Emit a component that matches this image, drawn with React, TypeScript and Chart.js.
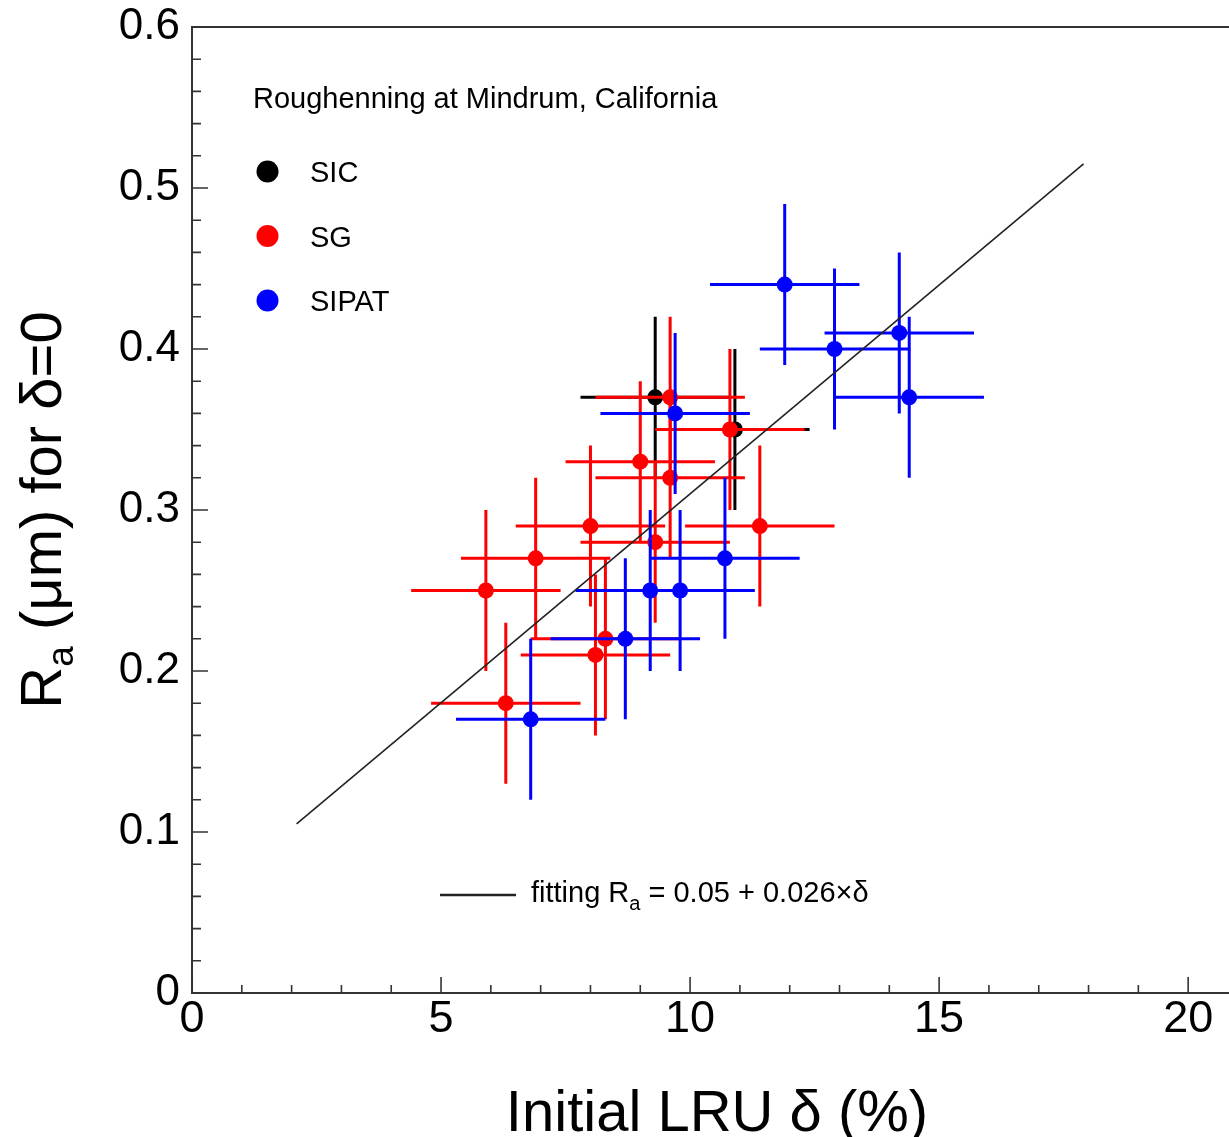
import { useEffect, useRef } from "react";
import { Chart, registerables } from "chart.js";

Chart.register(...registerables);

// ---- data ----
const sicX = [9.3, 10.9];
const sicY = [0.37, 0.35];
const sicXErr = [1.5, 1.5];
const sicYErr = [0.05, 0.05];

const sgX = [9.6, 10.8, 9.0, 9.6, 8.0, 9.3, 11.4, 6.9, 5.9, 8.3, 8.1, 6.3];
const sgY = [0.37, 0.35, 0.33, 0.32, 0.29, 0.28, 0.29, 0.27, 0.25, 0.22, 0.21, 0.18];
const sgXErr = [1.5, 1.5, 1.5, 1.5, 1.5, 1.5, 1.5, 1.5, 1.5, 1.5, 1.5, 1.5];
const sgYErr = [0.05, 0.05, 0.05, 0.05, 0.05, 0.05, 0.05, 0.05, 0.05, 0.05, 0.05, 0.05];

const sipatX = [9.7, 10.7, 9.2, 9.8, 8.7, 6.8, 11.9, 12.9, 14.2, 14.4];
const sipatY = [0.36, 0.27, 0.25, 0.25, 0.22, 0.17, 0.44, 0.40, 0.41, 0.37];
const sipatXErr = [1.5, 1.5, 1.5, 1.5, 1.5, 1.5, 1.5, 1.5, 1.5, 1.5];
const sipatYErr = [0.05, 0.05, 0.05, 0.05, 0.05, 0.05, 0.05, 0.05, 0.05, 0.05];

const fitX = [2.1, 17.9];
const fitY = [0.105, 0.515];

const xTickValues = [0, 5, 10, 15, 20];
const xTickLabels = ["0", "5", "10", "15", "20"];
const xMinorTicks = [1, 2, 3, 4, 6, 7, 8, 9, 11, 12, 13, 14, 16, 17, 18, 19];
const yTickValues = [0, 0.1, 0.2, 0.3, 0.4, 0.5, 0.6];
const yTickLabels = ["0", "0.1", "0.2", "0.3", "0.4", "0.5", "0.6"];
const yMinorTicks = [
  0.02, 0.04, 0.06, 0.08, 0.12, 0.14, 0.16, 0.18, 0.22, 0.24, 0.26, 0.28,
  0.32, 0.34, 0.36, 0.38, 0.42, 0.44, 0.46, 0.48, 0.52, 0.54, 0.56, 0.58,
];

const seriesNames = ["SIC", "SG", "SIPAT"];
const seriesColors = ["#000000", "#ff0000", "#0000ff"];
const legendTitle = "Roughenning at Mindrum, California";
const xTitle = "Initial LRU \u03b4 (%)";

const FONT = "'Liberation Sans', Arial, sans-serif";

const toPts = (xs: number[], ys: number[]) => xs.map((x, i) => ({ x, y: ys[i] }));

const errorBarPlugin = {
  id: "errorBars",
  beforeDatasetDraw(chart: any, args: any) {
    const ds = chart.data.datasets[args.index];
    if (!ds.xErr) return;
    const { ctx, scales } = chart;
    const xs = scales.x;
    const ys = scales.y;
    ctx.save();
    ctx.strokeStyle = ds.errColor;
    ctx.lineWidth = 3;
    ctx.lineCap = "butt";
    ds.data.forEach((p: any, i: number) => {
      const px = xs.getPixelForValue(p.x);
      const py = ys.getPixelForValue(p.y);
      const xl = xs.getPixelForValue(p.x - ds.xErr[i]);
      const xr = xs.getPixelForValue(p.x + ds.xErr[i]);
      const yt = ys.getPixelForValue(p.y + ds.yErr[i]);
      const yb = ys.getPixelForValue(p.y - ds.yErr[i]);
      ctx.beginPath();
      ctx.moveTo(xl, py);
      ctx.lineTo(xr, py);
      ctx.moveTo(px, yt);
      ctx.lineTo(px, yb);
      ctx.stroke();
    });
    ctx.restore();
  },
};

const framePlugin = {
  id: "frame",
  beforeDatasetsDraw(chart: any) {
    const { ctx, chartArea: a, scales } = chart;
    ctx.save();
    ctx.strokeStyle = "#333333";
    ctx.lineWidth = 2;
    ctx.beginPath();
    ctx.moveTo(a.right + 2, a.top);
    ctx.lineTo(a.left, a.top);
    ctx.lineTo(a.left, a.bottom);
    ctx.lineTo(a.right + 2, a.bottom);
    ctx.stroke();
    ctx.lineWidth = 1.6;
    ctx.beginPath();
    xTickValues.forEach((v) => {
      const x = scales.x.getPixelForValue(v);
      ctx.moveTo(x, a.bottom);
      ctx.lineTo(x, a.bottom - 16);
    });
    xMinorTicks.forEach((v) => {
      const x = scales.x.getPixelForValue(v);
      ctx.moveTo(x, a.bottom);
      ctx.lineTo(x, a.bottom - 8);
    });
    yTickValues.forEach((v) => {
      const y = scales.y.getPixelForValue(v);
      ctx.moveTo(a.left, y);
      ctx.lineTo(a.left + 16, y);
    });
    yMinorTicks.forEach((v) => {
      const y = scales.y.getPixelForValue(v);
      ctx.moveTo(a.left, y);
      ctx.lineTo(a.left + 9, y);
    });
    ctx.stroke();
    ctx.restore();
  },
  afterDraw(chart: any) {
    const { ctx, chartArea: a } = chart;
    ctx.save();
    ctx.fillStyle = "#000";
    ctx.textBaseline = "alphabetic";

    // x title
    ctx.font = `58px ${FONT}`;
    ctx.textAlign = "center";
    ctx.fillText(xTitle, 717, 1131);

    // y title (rotated) with subscript
    ctx.save();
    ctx.translate(0, (a.top + a.bottom) / 2);
    ctx.rotate(-Math.PI / 2);
    ctx.textAlign = "left";
    const big = `58px ${FONT}`;
    const small = `37px ${FONT}`;
    ctx.font = big;
    const wR = ctx.measureText("R").width;
    const rest = " (\u03bcm) for \u03b4=0";
    const wRest = ctx.measureText(rest).width;
    ctx.font = small;
    const wa = ctx.measureText("a").width;
    const total = wR + wa + wRest;
    let u = -total / 2;
    const base = 61;
    ctx.font = big;
    ctx.fillText("R", u, base);
    u += wR;
    ctx.font = small;
    ctx.fillText("a", u, base + 12);
    u += wa;
    ctx.font = big;
    ctx.fillText(rest, u, base);
    ctx.restore();

    // legend
    ctx.textAlign = "left";
    ctx.font = `29px ${FONT}`;
    ctx.fillText(legendTitle, 253, 108);
    const rowY = [171.5, 236, 300.5];
    seriesNames.forEach((name, i) => {
      ctx.fillStyle = seriesColors[i];
      ctx.beginPath();
      ctx.arc(267.5, rowY[i], 11, 0, Math.PI * 2);
      ctx.fill();
      ctx.fillStyle = "#000";
      ctx.fillText(name, 310, rowY[i] + 10.5);
    });

    // fit legend
    ctx.strokeStyle = "#222";
    ctx.lineWidth = 2.5;
    ctx.beginPath();
    ctx.moveTo(440, 895);
    ctx.lineTo(516, 895);
    ctx.stroke();
    let fx = 531;
    const fb = 902;
    ctx.font = `29px ${FONT}`;
    ctx.fillText("fitting R", fx, fb);
    fx += ctx.measureText("fitting R").width;
    ctx.font = `20px ${FONT}`;
    ctx.fillText("a", fx, fb + 8);
    fx += ctx.measureText("a").width;
    ctx.font = `29px ${FONT}`;
    ctx.fillText(" = 0.05 + 0.026\u00d7\u03b4", fx, fb);
    ctx.restore();
  },
};

const zeroPad = (s: any) => {
  s.paddingTop = 0;
  s.paddingBottom = 0;
  s.paddingLeft = 0;
  s.paddingRight = 0;
};

export default function App() {
  const ref = useRef<HTMLCanvasElement>(null);
  useEffect(() => {
    document.body.style.margin = "0";
    document.body.style.overflow = "hidden";
    const canvas = ref.current!;
    const chart = new Chart(canvas, {
      type: "scatter",
      data: {
        datasets: [
          {
            label: "fit",
            data: toPts(fitX, fitY),
            showLine: true,
            borderColor: "#222222",
            borderWidth: 1.6,
            pointRadius: 0,
            order: 0,
          } as any,
          {
            label: seriesNames[2],
            data: toPts(sipatX, sipatY),
            pointRadius: 8,
            pointBackgroundColor: seriesColors[2],
            pointBorderWidth: 0,
            xErr: sipatXErr,
            yErr: sipatYErr,
            errColor: seriesColors[2],
            order: 1,
          } as any,
          {
            label: seriesNames[1],
            data: toPts(sgX, sgY),
            pointRadius: 8,
            pointBackgroundColor: seriesColors[1],
            pointBorderWidth: 0,
            xErr: sgXErr,
            yErr: sgYErr,
            errColor: seriesColors[1],
            order: 2,
          } as any,
          {
            label: seriesNames[0],
            data: toPts(sicX, sicY),
            pointRadius: 8,
            pointBackgroundColor: seriesColors[0],
            pointBorderWidth: 0,
            xErr: sicXErr,
            yErr: sicYErr,
            errColor: seriesColors[0],
            order: 3,
          } as any,
        ],
      },
      options: {
        animation: false,
        responsive: false,
        devicePixelRatio: 1,
        events: [],
        layout: { autoPadding: false, padding: { top: 27, right: 0, left: 0, bottom: 0 } },
        plugins: { legend: { display: false }, tooltip: { enabled: false } },
        scales: {
          x: {
            type: "linear",
            position: "bottom",
            min: 0,
            max: 20.82,
            grid: { display: false, drawTicks: false },
            border: { display: false },
            afterBuildTicks: (s: any) => {
              s.ticks = xTickValues.map((v) => ({ value: v }));
            },
            afterFit: (s: any) => {
              s.height = 144;
              zeroPad(s);
            },
            ticks: {
              autoSkip: false,
              maxRotation: 0,
              includeBounds: false,
              padding: 0,
              color: "#000",
              font: { family: FONT, size: 45 },
              callback: (v: any) => xTickLabels[xTickValues.indexOf(v)] ?? "",
            },
          },
          y: {
            type: "linear",
            position: "left",
            min: 0,
            max: 0.6,
            grid: { display: false, drawTicks: false },
            border: { display: false },
            afterBuildTicks: (s: any) => {
              s.ticks = yTickValues.map((v) => ({ value: v }));
            },
            afterFit: (s: any) => {
              s.width = 192;
              zeroPad(s);
            },
            ticks: {
              autoSkip: false,
              includeBounds: false,
              padding: 12,
              color: "#000",
              font: { family: FONT, size: 44, lineHeight: 1 },
              callback: (v: any) => yTickLabels[yTickValues.indexOf(v)] ?? "",
            },
          },
        },
      },
      plugins: [errorBarPlugin, framePlugin],
    });
    return () => chart.destroy();
  }, []);
  return (
    <canvas
      ref={ref}
      width={1229}
      height={1137}
      style={{ display: "block", width: 1229, height: 1137 }}
    />
  );
}
